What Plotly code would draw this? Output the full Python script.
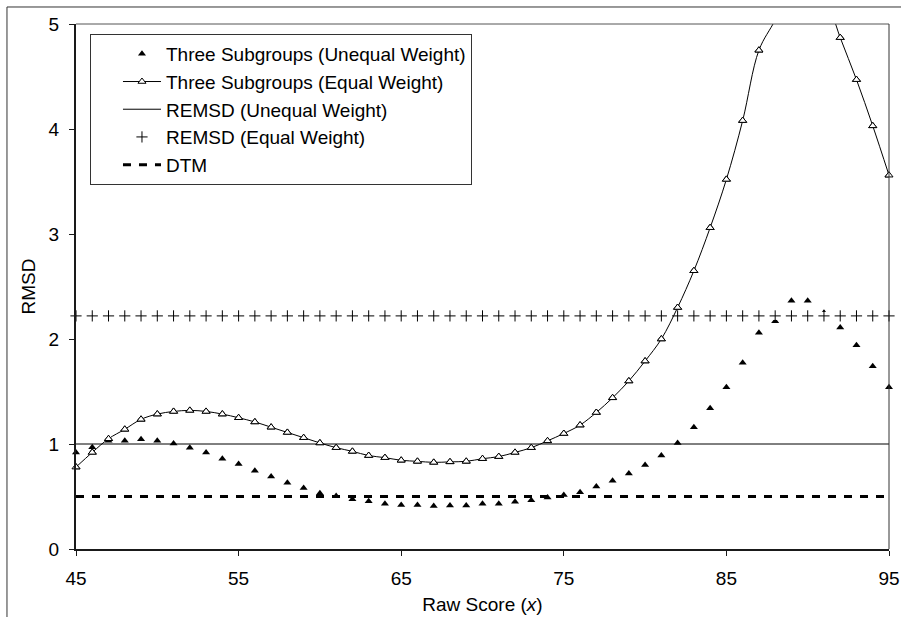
import plotly.graph_objects as go

# Raw scores on the horizontal axis
raw_score = list(range(45, 96))

# RMSD for three subgroups, unequal weighting
three_unequal = [0.92, 0.97, 1.03, 1.03, 1.045, 1.03, 1.005, 0.965, 0.92, 0.86,
                 0.81, 0.745, 0.69, 0.63, 0.58, 0.53, 0.505, 0.475, 0.455, 0.43,
                 0.42, 0.42, 0.41, 0.415, 0.415, 0.43, 0.43, 0.45, 0.465, 0.49,
                 0.515, 0.54, 0.595, 0.65, 0.72, 0.80, 0.89, 1.01, 1.16, 1.34,
                 1.54, 1.775, 2.06, 2.17, 2.365, 2.365, 2.25, 2.11, 1.94, 1.74,
                 1.54]

# RMSD for three subgroups, equal weighting
three_equal = [0.78, 0.92, 1.05, 1.14, 1.235, 1.285, 1.31, 1.32, 1.31, 1.285,
               1.25, 1.21, 1.16, 1.11, 1.06, 1.01, 0.965, 0.93, 0.89, 0.87,
               0.845, 0.835, 0.825, 0.83, 0.835, 0.86, 0.88, 0.92, 0.965, 1.03,
               1.10, 1.18, 1.30, 1.44, 1.60, 1.79, 2.00, 2.30, 2.65, 3.06,
               3.52, 4.08, 4.75, 5.04, 5.40, 5.50, 5.30, 4.87, 4.47, 4.03,
               3.56]

# Summary indices (constant over the score range)
remsd_unequal = 1.0
remsd_equal = 2.22
dtm = 0.5

x_ticks = [45, 55, 65, 75, 85, 95]
y_ticks = [0, 1, 2, 3, 4, 5]
y_max = 5

n = len(raw_score)
black = "#000000"
fsize = 19

fig = go.Figure()

# Filled triangles: three subgroups, unequal weight
fig.add_trace(go.Scatter(
    x=raw_score, y=three_unequal, mode="markers",
    name="Three Subgroups (Unequal Weight)", legendrank=1,
    marker=dict(symbol="triangle-up", size=7, color=black),
    cliponaxis=False,
))

# Solid reference line: REMSD unequal weight
fig.add_trace(go.Scatter(
    x=raw_score, y=[remsd_unequal] * n, mode="lines",
    name="REMSD (Unequal Weight)", legendrank=3,
    line=dict(color=black, width=1),
))

# White backing squares behind the plus markers
fig.add_trace(go.Scatter(
    x=raw_score, y=[remsd_equal] * n, mode="markers",
    showlegend=False, hoverinfo="skip",
    marker=dict(symbol="square", size=8, color="white"),
    cliponaxis=False,
))

# Plus markers: REMSD equal weight
fig.add_trace(go.Scatter(
    x=raw_score, y=[remsd_equal] * n, mode="markers",
    name="REMSD (Equal Weight)", legendrank=4,
    marker=dict(symbol="cross-thin", size=8,
                line=dict(color=black, width=1)),
    cliponaxis=False,
))

# Smoothed curve with open triangles: three subgroups, equal weight
fig.add_trace(go.Scatter(
    x=raw_score, y=three_equal, mode="lines+markers",
    name="Three Subgroups (Equal Weight)", legendrank=2,
    line=dict(color=black, width=1, shape="spline", smoothing=1.0),
    marker=dict(symbol="triangle-up", size=7, color="white",
                line=dict(color=black, width=1)),
))
# Same open triangles drawn unclipped so edge markers stay whole
fig.add_trace(go.Scatter(
    x=raw_score, y=[v if v <= y_max else None for v in three_equal],
    mode="markers", showlegend=False, hoverinfo="skip",
    marker=dict(symbol="triangle-up", size=7, color="white",
                line=dict(color=black, width=1)),
    cliponaxis=False,
))

# Thick dashed line: DTM
fig.add_trace(go.Scatter(
    x=raw_score, y=[dtm] * n, mode="lines",
    name="DTM", legendrank=5,
    line=dict(color=black, width=3, dash="8px,8px"),
))

axis_common = dict(
    showline=True, linecolor="#1a1a1a", linewidth=2,
    ticks="outside", ticklen=5, tickwidth=1, tickcolor="#1a1a1a",
    showgrid=False, zeroline=False, automargin=False,
    tickfont=dict(size=fsize, color=black),
)

fig.update_xaxes(
    range=[45, 95], tickvals=x_ticks, ticktext=[str(t) for t in x_ticks],
    title=dict(text="Raw Score (<i>x</i>)", font=dict(size=fsize), standoff=10),
    ticklabelstandoff=6,
    **axis_common,
)
fig.update_yaxes(
    range=[0, y_max], tickvals=y_ticks, ticktext=[str(t) for t in y_ticks],
    title=dict(text="RMSD", font=dict(size=fsize), standoff=8),
    ticklabelstandoff=6,
    **axis_common,
)

fig.update_layout(
    width=901, height=617,
    margin=dict(l=76, r=12, t=24, b=68, autoexpand=False),
    paper_bgcolor="white", plot_bgcolor="white",
    font=dict(family="Liberation Sans, Arial, sans-serif", size=fsize, color=black),
    legend=dict(
        x=0.0172, y=0.981, xanchor="left", yanchor="top",
        bgcolor="white", bordercolor="#333333", borderwidth=1,
        font=dict(size=fsize, color=black),
        itemwidth=38, indentation=27,
        traceorder="normal",
    ),
    shapes=[
        # top and right edges of the plot frame
        dict(type="line", xref="paper", yref="paper", x0=0, x1=1, y0=1, y1=1,
             line=dict(color="#555555", width=1)),
        dict(type="line", xref="paper", yref="paper", x0=1, x1=1, y0=0, y1=1,
             line=dict(color="#333333", width=1)),
        # outer chart border
        dict(type="rect", xref="paper", yref="paper",
             x0=-0.0849, x1=1.03, y0=-0.14, y1=1.0324,
             line=dict(color="#333333", width=1), fillcolor="rgba(0,0,0,0)",
             layer="below"),
    ],
)

fig.write_html("out.html")
